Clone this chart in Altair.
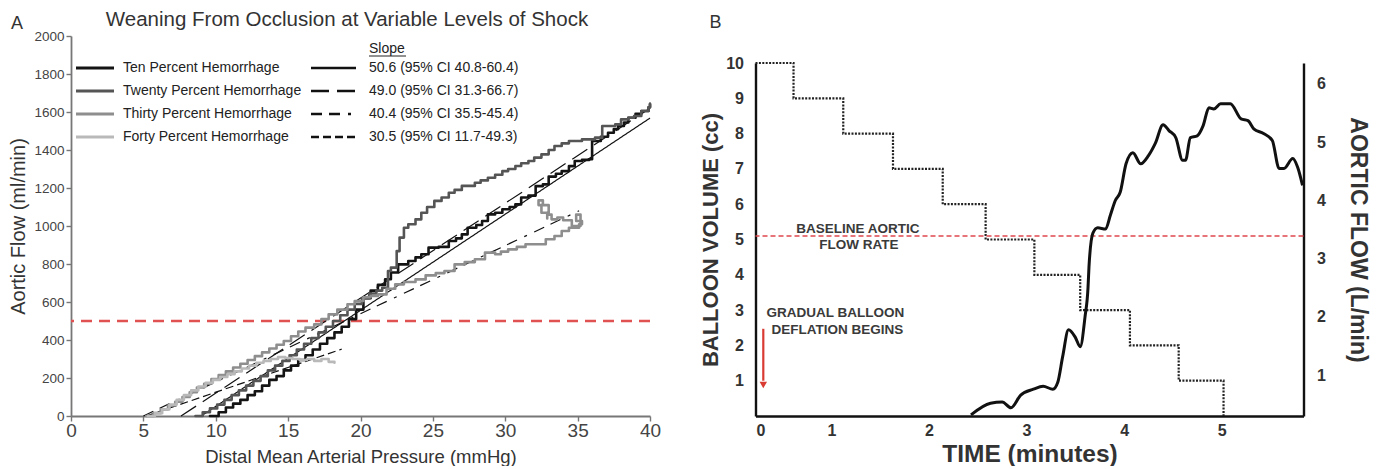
import altair as alt
import pandas as pd

FONT = "Liberation Sans, Arial, Helvetica, sans-serif"

# ---------------- Panel A data ----------------
groups = ["Ten Percent Hemorrhage", "Twenty Percent Hemorrhage",
          "Thirty Percent Hemorrhage", "Forty Percent Hemorrhage"]
group_colors = ["#141414", "#555555", "#8e8e8e", "#b9b9b9"]

ten_x = [9.6, 10.2, 10.7, 11.2, 11.7, 12.2, 12.7, 13.2, 13.7, 14.2, 14.7, 15.2, 15.7, 16.2,
         16.7, 17.2, 17.7, 18.2, 18.7, 19.2, 19.7, 20.2, 20.7, 21.2, 21.7, 22.1, 22.6, 23.3,
         23.8, 24.2, 24.7, 25.4, 26.1, 26.6, 27.0, 27.4, 28.0, 28.4, 28.8, 29.3, 29.8, 30.3,
         30.7, 31.1, 31.6, 32.1, 32.6, 33.0, 33.5, 33.9, 34.4, 34.8, 35.3, 35.8, 36.0, 36.6,
         37.1, 37.5, 37.8, 38.2, 38.5, 39.0, 39.4, 39.9, 40.0]
ten_y = [0, 20, 45, 65, 85, 110, 130, 160, 190, 210, 240, 265, 295, 320,
         350, 380, 410, 440, 470, 510, 560, 620, 660, 690, 720, 755, 798, 816,
         835, 851, 886, 890, 921, 935, 956, 991, 1005, 1026, 1061, 1070, 1088, 1100,
         1114, 1150, 1160, 1210, 1219, 1260, 1275, 1289, 1315, 1342, 1348, 1351, 1447, 1470,
         1491, 1510, 1526, 1545, 1570, 1590, 1605, 1625, 1640]

twenty_x = [8.6, 9.1, 9.6, 10.1, 10.6, 11.1, 11.6, 12.1, 12.6, 13.1, 13.6, 14.1, 14.6, 15.1,
            15.6, 16.1, 16.6, 17.1, 17.6, 18.1, 18.6, 19.1, 19.6, 20.1, 20.6, 21.1, 21.5, 21.9,
            22.1, 22.5, 22.7, 23.0, 23.3, 23.8, 24.2, 24.6, 25.1, 25.6, 26.1, 26.5, 27.0, 27.9,
            28.3, 28.8, 29.3, 29.8, 30.2, 30.7, 31.1, 31.6, 32.0, 32.5, 33.0, 33.4, 33.9, 34.4,
            35.3, 36.2, 36.7, 37.6, 38.0, 38.5, 38.9, 39.4, 39.9, 40.0]
twenty_y = [0, 20, 40, 60, 85, 110, 135, 160, 185, 210, 240, 265, 290, 320,
            350, 380, 410, 440, 470, 500, 530, 560, 590, 620, 645, 660, 675, 763,
            781, 868, 939, 991, 1009, 1035, 1070, 1100, 1132, 1150, 1175, 1190, 1211, 1228,
            1240, 1254, 1270, 1289, 1300, 1316, 1330, 1342, 1360, 1377, 1400, 1421, 1435, 1447,
            1456, 1465, 1526, 1535, 1561, 1570, 1579, 1605, 1625, 1645]

thirty_x = [5.2, 5.7, 6.2, 6.7, 7.2, 7.7, 8.2, 8.7, 9.2, 9.7, 10.2, 10.7, 11.2, 11.7, 12.2,
            12.7, 13.2, 13.7, 14.2, 14.7, 15.2, 15.7, 16.2, 16.8, 17.3, 17.8, 18.4, 19.1, 19.6,
            20.2, 20.7, 21.2, 21.8, 22.4, 23.0, 23.8, 24.5, 25.2, 25.8, 26.5, 27.2, 27.9, 28.6,
            29.3, 29.7, 30.2, 30.8, 31.4, 32.3, 32.8, 33.4, 33.9, 34.4, 35.1, 35.3, 34.9, 35.2,
            34.6, 34.0, 33.6, 33.2, 33.0, 32.6, 32.3, 32.5, 32.9]
thirty_y = [0, 15, 35, 55, 75, 100, 125, 150, 170, 195, 215, 235, 255, 275, 295,
            315, 335, 355, 375, 395, 420, 445, 465, 482, 510, 535, 560, 588, 605,
            625, 632, 640, 670, 693, 705, 719, 740, 752, 763, 798, 810, 825, 860,
            851, 865, 877, 890, 904, 904, 930, 947, 974, 991, 1009, 1026, 1060, 1000,
            1030, 1045, 1035, 1060, 1110, 1135, 1110, 1070, 1040]

forty_x = [5.3, 5.8, 6.3, 6.8, 7.3, 7.8, 8.3, 8.8, 9.3, 9.8, 10.3, 10.8, 11.3, 11.8, 12.3,
           12.8, 13.3, 13.8, 14.3, 14.8, 15.3, 15.8, 16.3, 16.8, 17.3, 17.8, 18.2]
forty_y = [0, 15, 35, 60, 85, 110, 135, 155, 175, 190, 205, 220, 235, 250, 265,
           280, 290, 300, 310, 305, 300, 295, 300, 290, 300, 285, 280]

slope_labels = ["50.6 (95% CI 40.8-60.4)", "49.0 (95% CI 31.3-66.7)",
                "40.4 (95% CI 35.5-45.4)", "30.5 (95% CI 11.7-49.3)"]
slope_dashes = [[1, 0], [18, 8], [11, 7, 11, 8, 3, 8], [8, 4]]
fit_x_start = [9.0, 7.6, 5.0, 5.2]
fit_y_start = [0, 0, 0, 0]
fit_x_end = [40.0, 40.0, 35.1, 18.7]
fit_y_end = [1568, 1620, 1080, 352]
flow_threshold = 500

# ---------------- Panel B data ----------------
balloon_t = [0.22, 0.61, 1.12, 1.63, 2.14, 2.58, 3.08, 3.55, 4.06, 4.56, 5.02]
balloon_cc = [10, 9, 8, 7, 6, 5, 4, 3, 2, 1, 0]

flow_t = [2.43, 2.63, 2.75, 2.84, 2.94, 3.07, 3.17, 3.27, 3.32, 3.37, 3.43, 3.50, 3.55, 3.60,
          3.63, 3.64, 3.68, 3.73, 3.81, 3.86, 3.91, 3.96, 4.02, 4.09, 4.17, 4.25, 4.32, 4.40,
          4.46, 4.53, 4.60, 4.63, 4.68, 4.75, 4.81, 4.87, 4.92, 4.99, 5.09, 5.20, 5.27, 5.33,
          5.43, 5.52, 5.59, 5.64, 5.73, 5.78, 5.83]
flow_lpm = [0.32, 0.52, 0.54, 0.44, 0.66, 0.76, 0.81, 0.76, 0.88, 1.32, 1.78, 1.65, 1.49, 2.01,
            2.50, 2.86, 3.44, 3.53, 3.51, 3.75, 4.00, 4.14, 4.63, 4.82, 4.63, 4.77, 4.98, 5.30,
            5.20, 5.08, 4.69, 4.69, 5.08, 5.11, 5.28, 5.59, 5.57, 5.66, 5.66, 5.40, 5.37, 5.23,
            5.15, 5.03, 4.55, 4.55, 4.72, 4.57, 4.26]
baseline_flow = 3.39

H = 380  # shared view height of both panels

# ================= Panel A =================
rows = []
for g, xs, ys in zip(groups, [ten_x, twenty_x, thirty_x, forty_x],
                     [ten_y, twenty_y, thirty_y, forty_y]):
    for i, (x, y) in enumerate(zip(xs, ys)):
        rows.append({"group": g, "pressure": x, "flow": y, "idx": i})
df_curves = pd.DataFrame(rows)

fit_rows = []
for lab, x0, y0, x1, y1 in zip(slope_labels, fit_x_start, fit_y_start, fit_x_end, fit_y_end):
    fit_rows.append({"slope": lab, "pressure": x0, "flow": y0})
    fit_rows.append({"slope": lab, "pressure": x1, "flow": y1})
df_fit = pd.DataFrame(fit_rows)

xA_scale = alt.Scale(domain=[0, 40], nice=False)
yA_scale = alt.Scale(domain=[0, 2000], nice=False)

axA_x = alt.Axis(title="Distal Mean Arterial Pressure (mmHg)", values=list(range(0, 41, 5)),
                 grid=False, tickSize=5, tickColor="#777", tickWidth=1.4,
                 domainColor="#777", domainWidth=1.8, labelFont=FONT, labelFontSize=19,
                 labelColor="#444", labelPadding=0, labelFlush=False, titleFont=FONT,
                 titleFontSize=18.5, titleFontWeight="normal", titleColor="#333",
                 titlePadding=7)
axA_y = alt.Axis(title="Aortic Flow (ml/min)", values=list(range(0, 2001, 200)), format="d",
                 grid=False, tickSize=5, tickColor="#777", tickWidth=1.4,
                 domainColor="#777", domainWidth=1.8, labelFont=FONT, labelFontSize=13.5,
                 labelColor="#444", labelPadding=2, labelFlush=False, titleFont=FONT,
                 titleFontSize=20, titleFontWeight="normal", titleColor="#333",
                 titlePadding=5)

curves = alt.Chart(df_curves).mark_line(
    strokeWidth=2.6, interpolate="step-after", strokeJoin="round", strokeCap="round"
).encode(
    x=alt.X("pressure:Q", scale=xA_scale, axis=axA_x),
    y=alt.Y("flow:Q", scale=yA_scale, axis=axA_y),
    color=alt.Color("group:N", scale=alt.Scale(domain=groups, range=group_colors),
                    legend=alt.Legend(title=None, orient="none", legendX=17, legendY=25,
                                      symbolType="M-3.8,0H3.8", symbolSize=100,
                                      symbolStrokeWidth=3, labelOffset=21, padding=0,
                                      labelFont=FONT, labelFontSize=14, labelColor="#222",
                                      labelLimit=400, rowPadding=9, symbolOffset=0)),
    order=alt.Order("idx:Q"),
)

fits = alt.Chart(df_fit).mark_line(strokeWidth=1.2, color="#111").encode(
    x=alt.X("pressure:Q", scale=xA_scale, axis=axA_x),
    y=alt.Y("flow:Q", scale=yA_scale, axis=axA_y),
    strokeDash=alt.StrokeDash("slope:N",
                              scale=alt.Scale(domain=slope_labels, range=slope_dashes),
                              legend=alt.Legend(title=None, orient="none", legendX=255.5,
                                                legendY=25, symbolType="M-4.5,0H4.5",
                                                symbolSize=100, symbolStrokeWidth=2.6,
                                                symbolStrokeColor="#111", labelOffset=28.5,
                                                padding=0, labelFont=FONT, labelFontSize=14,
                                                labelColor="#222", labelLimit=400,
                                                rowPadding=9, symbolOffset=0)),
    detail="slope:N",
)

thresh_a = alt.Chart(pd.DataFrame({"v": [flow_threshold]})).mark_rule(
    color="#e05252", strokeWidth=2.6, strokeDash=[11, 7]
).encode(y=alt.Y("v:Q", scale=yA_scale, axis=axA_y))

slope_head = alt.Chart(pd.DataFrame({"t": ["Slope"]})).mark_text(
    font=FONT, fontSize=14, color="#222", align="left", baseline="alphabetic"
).encode(text="t:N", x=alt.value(298), y=alt.value(17))
slope_line = alt.Chart(pd.DataFrame({"t": ["Slope"]})).mark_rule(
    color="#222", strokeWidth=1
).encode(x=alt.value(298), x2=alt.value(335), y=alt.value(20))

title_a = alt.Chart(pd.DataFrame({"t": ["Weaning From Occlusion at Variable Levels of Shock"]})).mark_text(
    font=FONT, fontSize=20.5, color="#333", align="center", baseline="top"
).encode(text="t:N", x=alt.value(276), y=alt.value(-26))
label_a = alt.Chart(pd.DataFrame({"t": ["A"]})).mark_text(
    font=FONT, fontSize=18, color="#333", align="center", baseline="top"
).encode(text="t:N", x=alt.value(-54), y=alt.value(-21))

panel_a = alt.layer(thresh_a, fits, curves, slope_head, slope_line, title_a, label_a).properties(
    width=579, height=H)

# ================= Panel B =================
df_balloon = pd.DataFrame({"time": balloon_t, "cc": balloon_cc})
df_flow = pd.DataFrame({"time": flow_t, "lpm": flow_lpm})

xB_scale = alt.Scale(domain=[0.22, 5.84], nice=False, zero=False)
yL_scale = alt.Scale(domain=[0, 10], range=[H, 27], nice=False)
yR_scale = alt.Scale(domain=[0.3, 6.36], range=[H, 27], nice=False, zero=False)

axB_x = alt.Axis(title="TIME (minutes)", values=[0.27, 1, 2, 3, 4, 5],
                 labelExpr="datum.value < 0.5 ? '0' : datum.label",
                 grid=False, ticks=False, domainColor="#111", domainWidth=2.4,
                 labelFont=FONT, labelFontSize=16, labelFontWeight="bold",
                 labelColor="#333", labelPadding=6, labelFlush=False,
                 titleFont=FONT, titleFontSize=24.5, titleFontWeight="bold",
                 titleColor="#333", titlePadding=4)
axB_l = alt.Axis(title="BALLOON VOLUME (cc)", values=list(range(1, 11)), orient="left",
                 grid=False, ticks=False, domainColor="#111", domainWidth=2.4,
                 labelFont=FONT, labelFontSize=16, labelFontWeight="bold",
                 labelColor="#333", labelPadding=12, labelFlush=False,
                 titleFont=FONT, titleFontSize=22, titleFontWeight="bold",
                 titleColor="#333", titlePadding=3)
axB_r = alt.Axis(title="AORTIC FLOW (L/min)", values=list(range(1, 7)), orient="right",
                 grid=False, ticks=False, domainColor="#111", domainWidth=2.4,
                 labelFont=FONT, labelFontSize=16, labelFontWeight="bold",
                 labelColor="#333", labelPadding=13, labelFlush=False,
                 titleFont=FONT, titleFontSize=23, titleFontWeight="bold",
                 titleColor="#333", titlePadding=20)

balloon = alt.Chart(df_balloon).mark_line(
    interpolate="step-after", strokeDash=[2, 1.4], strokeWidth=2.2, color="#222"
).encode(
    x=alt.X("time:Q", scale=xB_scale, axis=axB_x),
    y=alt.Y("cc:Q", scale=yL_scale, axis=axB_l),
)

def note(text, t, v):
    return alt.Chart(pd.DataFrame({"t": [text]})).mark_text(
        font=FONT, fontSize=13.5, fontWeight="bold", color="#3a3a3a",
        align="center", baseline="middle"
    ).encode(text="t:N",
             x=alt.X(datum=t, scale=xB_scale, axis=axB_x),
             y=alt.Y(datum=v, scale=yL_scale, axis=axB_l))

notes = [note("BASELINE AORTIC", 1.27, 5.30), note("FLOW RATE", 1.28, 4.85),
         note("GRADUAL BALLOON", 1.04, 2.93), note("DEFLATION BEGINS", 1.06, 2.45)]

arrow_shaft = alt.Chart(pd.DataFrame({"a": [0]})).mark_rule(
    color="#d93a32", strokeWidth=2.2
).encode(x=alt.X(datum=0.30, scale=xB_scale, axis=axB_x),
         y=alt.Y(datum=2.47, scale=yL_scale, axis=axB_l),
         y2=alt.Y2(datum=1.0))
arrow_head = alt.Chart(pd.DataFrame({"a": [0]})).mark_point(
    shape="triangle-down", filled=True, color="#d93a32", size=55, opacity=1
).encode(x=alt.X(datum=0.30, scale=xB_scale, axis=axB_x),
         y=alt.Y(datum=0.88, scale=yL_scale, axis=axB_l))

label_b = alt.Chart(pd.DataFrame({"t": ["B"]})).mark_text(
    font=FONT, fontSize=18, color="#333", align="center", baseline="top"
).encode(text="t:N", x=alt.value(-40), y=alt.value(-22))

left_layer = alt.layer(balloon, *notes, arrow_shaft, arrow_head, label_b)

flow_line = alt.Chart(df_flow).mark_line(
    interpolate="monotone", strokeWidth=3, color="#111", strokeJoin="round"
).encode(
    x=alt.X("time:Q", scale=xB_scale, axis=axB_x),
    y=alt.Y("lpm:Q", scale=yR_scale, axis=axB_r),
)
baseline_rule = alt.Chart(pd.DataFrame({"v": [baseline_flow]})).mark_rule(
    color="#e0474c", strokeWidth=1.6, strokeDash=[5, 3]
).encode(y=alt.Y("v:Q", scale=yR_scale, axis=axB_r))

right_layer = alt.layer(baseline_rule, flow_line)

panel_b = alt.layer(left_layer, right_layer).resolve_scale(y="independent").properties(
    width=548, height=H)

chart = alt.hconcat(panel_a, panel_b, spacing=38.5).configure_view(
    strokeWidth=0
).properties(
    padding={"left": 0, "top": 2, "right": 2, "bottom": 0},
    background="white",
)

chart.save("out.html", embed_options={"renderer": "svg", "actions": False})
